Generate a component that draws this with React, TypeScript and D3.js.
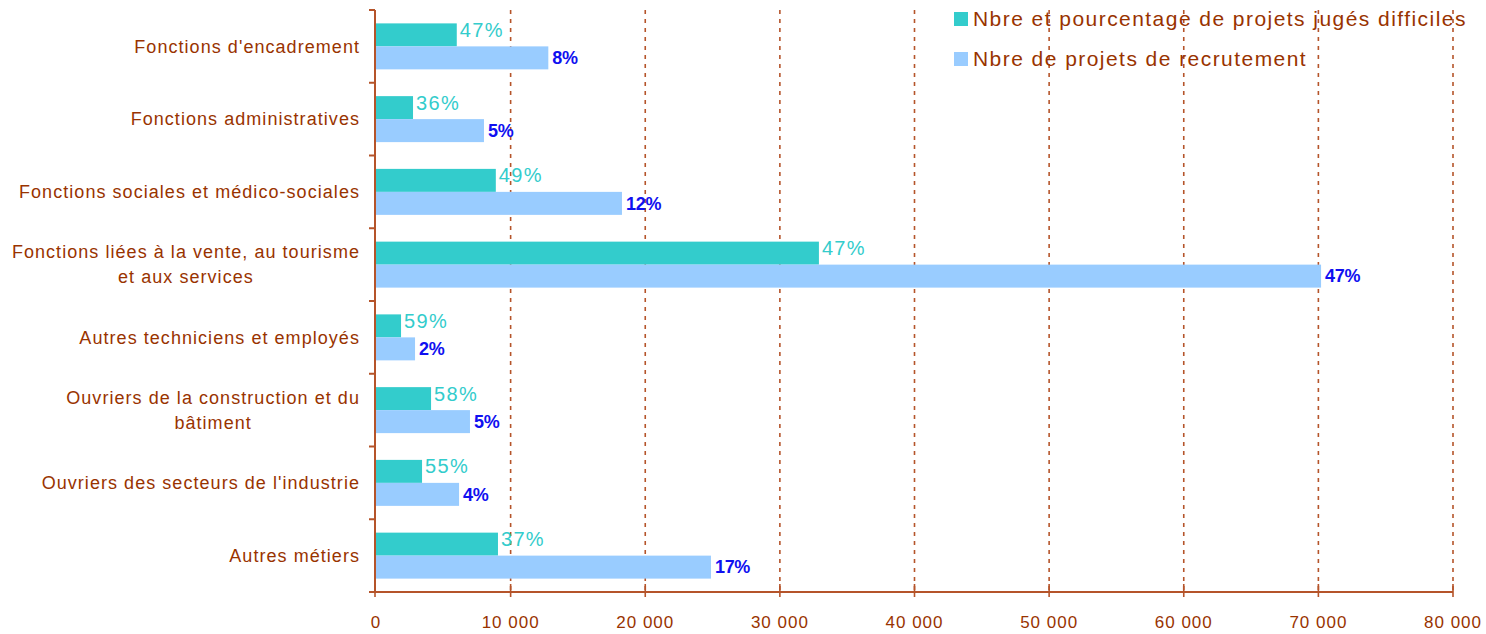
import React from "react";
import * as d3 from "d3";

const width = 1486;
const height = 634;

// one entry per category, "\n" marks where the label wraps
const categories = [
  "Fonctions d'encadrement",
  "Fonctions administratives",
  "Fonctions sociales et médico-sociales",
  "Fonctions liées à la vente, au tourisme\net aux services",
  "Autres techniciens et employés",
  "Ouvriers de la construction et du\nbâtiment",
  "Ouvriers des secteurs de l'industrie",
  "Autres métiers",
];
const difficiles = [6000, 2750, 8900, 32900, 1860, 4090, 3420, 9060];
const recrutement = [12800, 8020, 18270, 70200, 2900, 6980, 6170, 24880];
const pctDifficiles = [47, 36, 49, 47, 59, 58, 55, 37];
const pctRecrutement = [8, 5, 12, 47, 2, 5, 4, 17];
const xTicks = [0, 10000, 20000, 30000, 40000, 50000, 60000, 70000, 80000];
const legendLabels = [
  "Nbre et pourcentage de projets jugés difficiles",
  "Nbre de projets de recrutement",
];

const brown = "#993300";
const axisColor = "#B5542A";
const teal = "#33CCCC";
const lightBlue = "#99CCFF";
const font = "'Liberation Sans', Arial, sans-serif";
const catSize = 18;
const catSpacing = 1.05;

// width of a line of text, used to centre the wrapped second line under the first
const measure = (txt, size, spacing) => {
  const ctx = document.createElement("canvas").getContext("2d");
  ctx.font = `${size}px 'Liberation Sans', Arial, sans-serif`;
  return ctx.measureText(txt).width + spacing * txt.length;
};

const App = () => {
  const x = d3.scaleLinear().domain([0, 80000]).range([376, 1453]);
  const y = d3
    .scaleBand()
    .domain(categories)
    .range([10, 592])
    .paddingInner(0.368)
    .paddingOuter(0.184);
  const sub = d3
    .scaleBand()
    .domain(["d", "r"])
    .range([0, y.bandwidth()]);
  const step = y.step();
  const fmt = (v) => d3.format(",")(v).replace(/,/g, " ");
  const axisY = 592;
  const labelX = 360;

  return (
    <svg width={width} height={height} style={{ position: "absolute", left: 0, top: 0 }}>
      <rect width={width} height={height} fill="white" />

      {/* gridlines */}
      {xTicks.slice(1).map((t) => (
        <line
          key={t}
          x1={x(t)}
          x2={x(t)}
          y1={10}
          y2={axisY}
          stroke={axisColor}
          strokeWidth={1.6}
          strokeDasharray="4 5"
        />
      ))}

      {/* bars */}
      {categories.map((c, i) => (
        <g key={c}>
          <rect
            x={x(0)}
            y={y(c) + sub("d")}
            width={x(difficiles[i]) - x(0)}
            height={sub.bandwidth()}
            fill={teal}
          />
          <rect
            x={x(0)}
            y={y(c) + sub("r")}
            width={x(recrutement[i]) - x(0)}
            height={sub.bandwidth()}
            fill={lightBlue}
          />
          <text
            x={x(difficiles[i]) + 3}
            y={y(c) + sub("d") + sub.bandwidth() / 2 - 5}
            dy="0.35em"
            fill={teal}
            fontFamily={font}
            fontSize={20}
            letterSpacing={1.3}
          >
            {pctDifficiles[i]}%
          </text>
          <text
            x={x(recrutement[i]) + 4}
            y={y(c) + sub("r") + sub.bandwidth() / 2}
            dy="0.35em"
            fill="#1010F0"
            fontFamily={font}
            fontSize={18}
            fontWeight="bold"
            letterSpacing={-0.3}
          >
            {pctRecrutement[i]}%
          </text>
        </g>
      ))}

      {/* y axis */}
      <line x1={375} x2={375} y1={10} y2={axisY} stroke={axisColor} strokeWidth={2} />
      {d3.range(categories.length + 1).map((k) => (
        <line
          key={k}
          x1={369}
          x2={375}
          y1={10 + k * step}
          y2={10 + k * step}
          stroke={axisColor}
          strokeWidth={2}
        />
      ))}
      {categories.map((c) => {
        const lines = c.split("\n");
        const cy = y(c) + y.bandwidth() / 2;
        const firstW = measure(lines[0], catSize, catSpacing);
        const center = labelX - firstW / 2;
        return (
          <text
            key={c}
            fill={brown}
            fontFamily={font}
            fontSize={catSize}
            letterSpacing={catSpacing}
          >
            {lines.map((l, j) => (
              <tspan
                key={j}
                x={j === 0 ? labelX : center}
                textAnchor={j === 0 ? "end" : "middle"}
                y={cy + (j - (lines.length - 1) / 2) * 25}
                dy="0.35em"
              >
                {l}
              </tspan>
            ))}
          </text>
        );
      })}

      {/* x axis */}
      <line x1={375} x2={x(80000)} y1={axisY} y2={axisY} stroke={axisColor} strokeWidth={2} />
      {xTicks.map((t) => (
        <g key={t}>
          <line
            x1={x(t) - (t === 0 ? 1 : 0)}
            x2={x(t) - (t === 0 ? 1 : 0)}
            y1={axisY - 8}
            y2={axisY + 5}
            stroke={axisColor}
            strokeWidth={1.6}
          />
          <text
            x={x(t)}
            y={622}
            dy="0.35em"
            textAnchor="middle"
            fill={brown}
            fontFamily={font}
            fontSize={17}
            letterSpacing={1}
          >
            {fmt(t)}
          </text>
        </g>
      ))}

      {/* legend */}
      {legendLabels.map((l, i) => (
        <g key={l} transform={`translate(954, ${19 + i * 40})`}>
          <rect x={0} y={-7} width={14} height={14} fill={i === 0 ? teal : lightBlue} />
          <text
            x={19}
            dy="0.35em"
            fill={brown}
            fontFamily={font}
            fontSize={21}
            letterSpacing={1.45}
          >
            {l}
          </text>
        </g>
      ))}
    </svg>
  );
};

export default App;
